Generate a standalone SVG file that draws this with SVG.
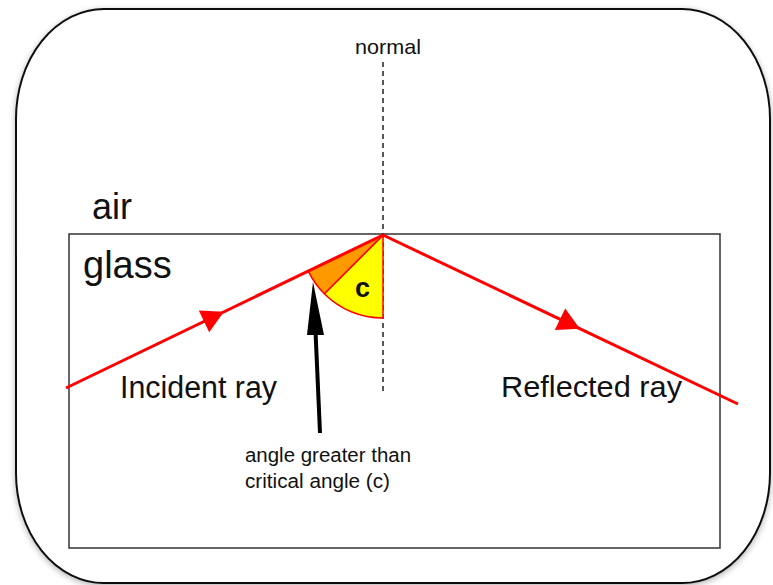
<svg xmlns="http://www.w3.org/2000/svg" width="773" height="585" viewBox="0 0 773 585">
<style>
text{font-family:"Liberation Sans",Arial,sans-serif;fill:#111}
.ray{stroke:#f00;stroke-width:3;fill:none}
.head{fill:#f00}
</style>
<defs>
<filter id="sh" x="-5%" y="-5%" width="110%" height="110%"><feGaussianBlur in="SourceAlpha" stdDeviation="3"/><feOffset dx="0" dy="2"/><feComponentTransfer><feFuncA type="linear" slope="0.3"/></feComponentTransfer><feMerge><feMergeNode/><feMergeNode in="SourceGraphic"/></feMerge></filter>
</defs>
<rect width="773" height="585" fill="#fff"/>
<g id="frame"><rect x="16" y="9" width="754" height="574" rx="88" ry="110" fill="#fff" stroke="#111" stroke-width="2" filter="url(#sh)"/></g>
<g id="glass-block"><rect x="69" y="234" width="651" height="314" fill="none" stroke="#333" stroke-width="1.5"/></g>
<g id="normal"><line x1="383" y1="62" x2="383" y2="392" stroke="#222" stroke-width="1.5" stroke-dasharray="5,4"/><text x="355" y="54" font-size="21" textLength="66" lengthAdjust="spacingAndGlyphs">normal</text></g>
<g id="angles">
<path d="M383,235 L383,318 A83,83 0 0 1 324.3,293.7 Z" fill="#ffff00" stroke="#f00" stroke-width="1.5"/>
<path d="M383,235 L324.3,293.7 A83,83 0 0 1 308.3,271.1 Z" fill="#ff9900" stroke="#f00" stroke-width="1.5"/>
<text x="355" y="297" font-size="27" font-weight="bold">c</text>
</g>
<g id="connectors">
<line class="ray" x1="66" y1="388" x2="383" y2="235"/>
<line class="ray" x1="383" y1="235" x2="738" y2="404"/>
<path class="head" d="M223.9,311.8 L209.2,332.2 L198.8,310.6 Z"/>
<path class="head" d="M579.9,328.7 L554.8,330 L565.2,308.4 Z"/>
<line x1="320" y1="433" x2="315" y2="320" stroke="#000" stroke-width="4"/>
<path d="M313,282 L307,335 L324,335 Z" fill="#000"/>
</g>
<g id="labels">
<text x="92" y="219" font-size="36">air</text>
<text x="83" y="278" font-size="38">glass</text>
<text x="120" y="398" font-size="31" textLength="157" lengthAdjust="spacingAndGlyphs">Incident ray</text>
<text x="501" y="397" font-size="30" textLength="181" lengthAdjust="spacingAndGlyphs">Reflected ray</text>
<text x="245" y="462" font-size="20" textLength="166" lengthAdjust="spacingAndGlyphs">angle greater than</text>
<text x="245" y="488" font-size="20" textLength="145" lengthAdjust="spacingAndGlyphs">critical angle (c)</text>
</g>
</svg>
